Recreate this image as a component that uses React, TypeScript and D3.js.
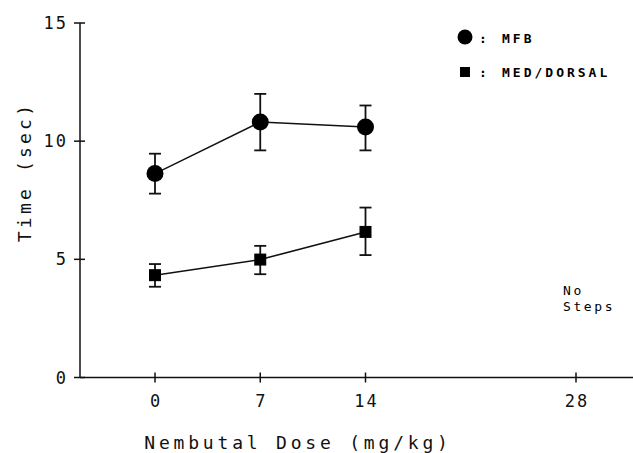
import React from 'react';
import * as d3 from 'd3';

// dose groups (mg/kg)
const doses = [0, 7, 14];
const xTickValues = [0, 7, 14, 28];
const yTickValues = [0, 5, 10, 15];

// MFB: mean and error bar ends
const mfbMean = [8.63, 10.81, 10.6];
const mfbHigh = [9.47, 12.0, 11.51];
const mfbLow = [7.78, 9.61, 9.61];

// MED/DORSAL
const medMean = [4.33, 4.99, 6.16];
const medHigh = [4.8, 5.57, 7.19];
const medLow = [3.84, 4.37, 5.18];

const W = 633;
const H = 453;
const font = "'DejaVu Sans Mono', 'Liberation Mono', monospace";

const App = () => {
  const x = d3.scaleLinear().domain([0, 28]).range([155, 576]);
  const y = d3.scaleLinear().domain([0, 15]).range([377.5, 23]);
  const axisX = 80;
  const axisY = y(0);

  const line = d3
    .line<number>()
    .x((d, i) => x(doses[i]))
    .y((d) => y(d));

  const errorBars = (hi: number[], lo: number[]) =>
    doses.map((d, i) => (
      <g key={i} stroke="#111" strokeWidth={1.8}>
        <line x1={x(d)} x2={x(d)} y1={y(hi[i])} y2={y(lo[i])} />
        <line x1={x(d) - 6} x2={x(d) + 6} y1={y(hi[i])} y2={y(hi[i])} />
        <line x1={x(d) - 6} x2={x(d) + 6} y1={y(lo[i])} y2={y(lo[i])} />
      </g>
    ));

  return (
    <svg
      width={W}
      height={H}
      style={{ position: 'absolute', left: 0, top: 0, background: '#fff' }}
      fontFamily={font}
    >
      {/* axes */}
      <g stroke="#111" strokeWidth={1.5} fill="none">
        <line x1={axisX} x2={axisX} y1={y(15)} y2={axisY} />
        <line x1={axisX} x2={W} y1={axisY} y2={axisY} />
        {yTickValues.map((t) => (
          <line key={t} x1={axisX - 6} x2={axisX + 5} y1={y(t)} y2={y(t)} />
        ))}
        {xTickValues.map((t) => (
          <line key={t} x1={x(t)} x2={x(t)} y1={axisY - 5} y2={axisY + 5} />
        ))}
      </g>
      <g fontSize={17} fill="#111" letterSpacing={2}>
        {yTickValues.map((t) => (
          <text key={t} x={68} y={y(t)} textAnchor="end" dominantBaseline="central">
            {t}
          </text>
        ))}
        {xTickValues.map((t) => (
          <text key={t} x={x(t) + 1} y={401} textAnchor="middle" dominantBaseline="central">
            {t}
          </text>
        ))}
      </g>
      <text
        x={298}
        y={442}
        textAnchor="middle"
        dominantBaseline="central"
        fontSize={18}
        letterSpacing={3.8}
        fill="#111"
      >
        Nembutal Dose (mg/kg)
      </text>
      <text
        transform={`translate(24,172) rotate(-90)`}
        textAnchor="middle"
        dominantBaseline="central"
        fontSize={18}
        letterSpacing={3.2}
        fill="#111"
      >
        Time (sec)
      </text>

      {/* MFB series */}
      <path d={line(mfbMean) || ''} fill="none" stroke="#111" strokeWidth={1.4} />
      {errorBars(mfbHigh, mfbLow)}
      {mfbMean.map((v, i) => (
        <circle key={i} cx={x(doses[i])} cy={y(v)} r={8.5} fill="#000" />
      ))}

      {/* MED/DORSAL series */}
      <path d={line(medMean) || ''} fill="none" stroke="#111" strokeWidth={1.6} />
      {errorBars(medHigh, medLow)}
      {medMean.map((v, i) => (
        <rect key={i} x={x(doses[i]) - 6} y={y(v) - 6} width={12} height={12} fill="#000" />
      ))}

      {/* legend */}
      <circle cx={465} cy={37} r={7.5} fill="#000" />
      <rect x={460} y={67} width={10} height={10} fill="#000" />
      <g fontSize={13} fill="#000" fontWeight="bold" letterSpacing={3} dominantBaseline="central">
        <text x={479} y={38}>:</text>
        <text x={502} y={38}>MFB</text>
        <text x={479} y={72}>:</text>
        <text x={502} y={72}>MED/DORSAL</text>
      </g>

      <g fontSize={13} fill="#000" letterSpacing={2.6}>
        <text x={563} y={295}>No</text>
        <text x={563} y={311}>Steps</text>
      </g>
    </svg>
  );
};

export default App;
